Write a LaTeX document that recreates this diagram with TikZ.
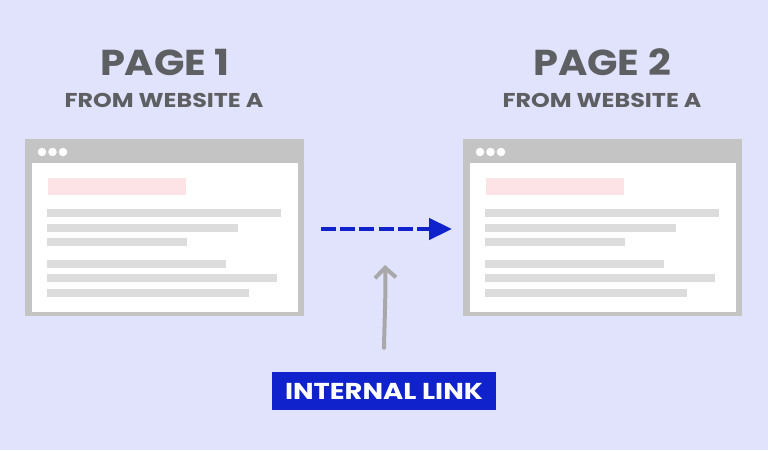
\documentclass[tikz,border=0pt]{standalone}
\usepackage{fontspec}
\setmainfont{Poppins}[BoldFont={* Bold}]
\usetikzlibrary{arrows.meta,positioning}
\definecolor{bg}{HTML}{E1E2FB}
\definecolor{frame}{HTML}{C4C4C4}
\definecolor{linegray}{HTML}{DCDCDC}
\definecolor{pinkbar}{HTML}{FDE3E6}
\definecolor{titlegray}{HTML}{5E5F63}
\definecolor{linkblue}{HTML}{1022CC}
\definecolor{arrowgray}{HTML}{A8A8AA}
\newcommand{\widetext}[2][1.19]{\scalebox{#1}[1]{#2}}
\tikzset{
  window/.style={rectangle, fill=frame, minimum width=279pt, minimum height=177pt, inner sep=0pt, outer sep=0pt},
  bigtitle/.style={text=titlegray, font=\bfseries\fontsize{36}{40}\selectfont, inner sep=0pt},
  subtitle/.style={text=titlegray, font=\bfseries\fontsize{20}{24}\selectfont, inner sep=0pt},
  textline/.style={line width=8pt, draw=linegray},
  dot/.style={circle, fill=white, minimum size=8.5pt, inner sep=0pt},
  linkbox/.style={fill=linkblue, text=white, font=\bfseries\fontsize{23}{27}\selectfont, minimum width=224pt, minimum height=38pt, inner sep=0pt},
}
\newcommand{\browserwin}[2]{%
  \begin{scope}[xshift=#2pt]
    \node[window] (#1) at (164.5,227.5) {};
    \fill[white] (32,163) rectangle (298,312);
    \node[dot] (#1d1) at (42,152) {};
    \node[dot] (#1d2) at (52.5,152) {};
    \node[dot] (#1d3) at (63,152) {};
    \fill[pinkbar] (48,178) rectangle (186,195);
    \draw[textline] (47,213) -- (281,213);
    \draw[textline] (47,228) -- (238,228);
    \draw[textline] (47,242) -- (187,242);
    \draw[textline] (47,264) -- (226,264);
    \draw[textline] (47,278) -- (277,278);
    \draw[textline] (47,293) -- (249,293);
  \end{scope}}
\begin{document}
\begin{tikzpicture}[x=1pt,y=-1pt]
\fill[bg] (0,0) rectangle (768,450);
\useasboundingbox (0,0) rectangle (768,450);

\browserwin{wa}{0}
\browserwin{wb}{438}

\node[bigtitle] (t1) at (165,62.5) {\widetext[1.11]{PAGE 1}};
\node[subtitle] (s1) at (164,100) {\widetext{FROM WEBSITE A}};
\node[bigtitle] (t2) at (602,62.5) {\widetext[1.11]{PAGE 2}};
\node[subtitle] (s2) at (602,100) {\widetext{FROM WEBSITE A}};

\draw[linkblue, line width=4.5pt, dash pattern=on 15pt off 4.2pt,
      -{Triangle[length=23pt,width=21pt]}]
  ([xshift=17pt,yshift=-1.5pt]wa.east) -- ([xshift=-11pt,yshift=-1.5pt]wb.west);

\node[linkbox] (lk) at (384,391) {\widetext{INTERNAL LINK}};
\coordinate (gtip) at (385,265);
\draw[arrowgray, line width=4pt, line cap=round,
      -{Straight Barb[length=10pt,width=21pt,line width=4pt]}]
  ([yshift=24pt]lk.north) .. controls (384.5,320) and (386,290) .. (gtip);
\end{tikzpicture}
\end{document}
